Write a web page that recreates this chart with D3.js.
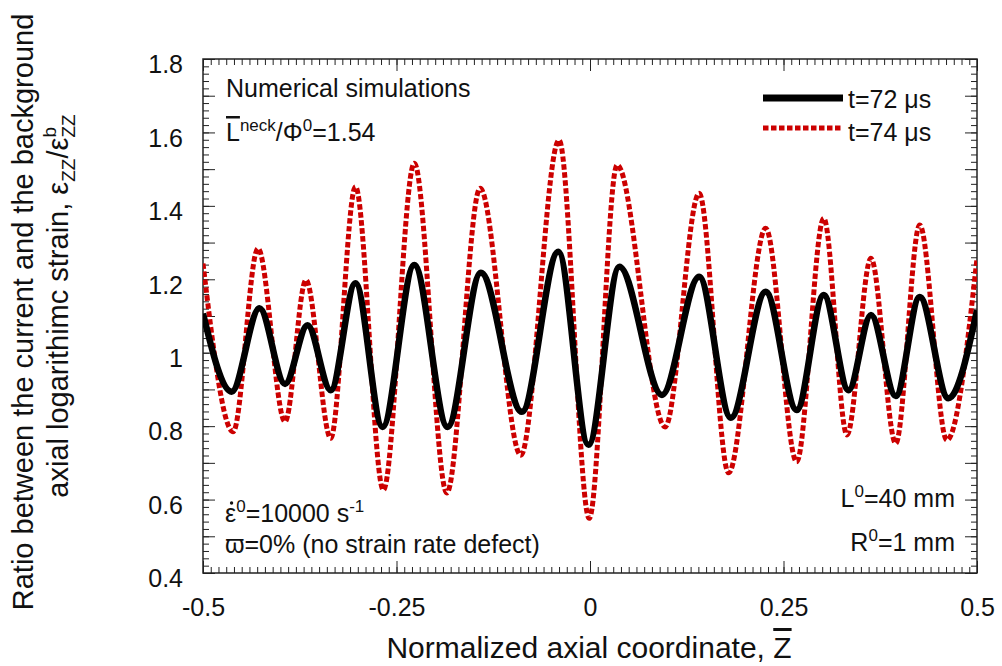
<!DOCTYPE html>
<html><head><meta charset="utf-8">
<script src="https://cdn.jsdelivr.net/npm/d3@7"></script>
<style>
body{margin:0;background:#fff}
text{font-family:"Liberation Sans",Arial,Helvetica,sans-serif;fill:#111}
</style>
</head><body>
<svg id="chart" width="1002" height="666"></svg>
<script>
// ---- data ----
const zBlack = [-0.5,-0.463,-0.427,-0.394,-0.365,-0.335,-0.303,-0.268,-0.227,-0.184,-0.141,-0.088,-0.041,-0.002,0.038,0.093,0.141,0.182,0.227,0.267,0.302,0.334,0.363,0.395,0.426,0.463,0.5];
const eBlack = [1.107,0.894,1.121,0.915,1.075,0.898,1.189,0.798,1.239,0.798,1.218,0.839,1.275,0.749,1.234,0.885,1.207,0.823,1.166,0.844,1.157,0.898,1.103,0.882,1.152,0.876,1.116];
const zRed = [-0.5,-0.461,-0.429,-0.394,-0.367,-0.335,-0.303,-0.267,-0.227,-0.185,-0.142,-0.0895,-0.040,-0.001,0.035,0.097,0.141,0.179,0.227,0.267,0.302,0.332,0.363,0.395,0.426,0.461,0.5];
const eRed = [1.243,0.785,1.284,0.812,1.198,0.767,1.452,0.626,1.516,0.618,1.448,0.721,1.579,0.549,1.511,0.798,1.434,0.673,1.339,0.703,1.366,0.776,1.257,0.753,1.348,0.762,1.257];
const seriesNames = ["t=72 \u03bcs","t=74 \u03bcs"];
const xTickLabels = [-0.5,-0.25,0,0.25,0.5];
const yTickLabels = [0.4,0.6,0.8,1,1.2,1.4,1.6,1.8];

const svg = d3.select("#chart");
const L = 203, R = 977, T = 59, B = 573;
const x = d3.scaleLinear().domain([-0.5,0.5]).range([L,R]);
const y = d3.scaleLinear().domain([0.4,1.8]).range([B,T]);

const round = v => Math.round(v*1000)/1000;
const xMinor = d3.range(-50,51).map(i=>round(i/100));
const yMinor = d3.range(20,91).map(i=>round(i/50));
const yMajor = d3.range(4,19).map(i=>round(i/10));
const fmtX = v => (v===0?"0":String(v));
const fmtY = v => yTickLabels.some(t=>Math.abs(t-v)<1e-6) ? String(v) : "";

function axisG(ax, tx, ty){
  const g = svg.append("g").attr("transform",`translate(${tx},${ty})`).call(ax);
  g.select(".domain").remove();
  g.selectAll("line").attr("stroke","#222").attr("stroke-width",1);
  return g;
}
// minor ticks (inside) on all four sides
axisG(d3.axisBottom(x).tickValues(xMinor).tickSize(-6).tickFormat(""),0,B);
axisG(d3.axisTop(x).tickValues(xMinor).tickSize(-6).tickFormat(""),0,T);
axisG(d3.axisLeft(y).tickValues(yMinor).tickSize(-6).tickFormat(""),L,0);
axisG(d3.axisRight(y).tickValues(yMinor).tickSize(-6).tickFormat(""),R,0);
// major ticks
const gxb = axisG(d3.axisBottom(x).tickValues(xTickLabels).tickSize(-12).tickPadding(22).tickFormat(fmtX),0,B);
axisG(d3.axisTop(x).tickValues(xTickLabels).tickSize(-12).tickFormat(""),0,T);
const gyl = axisG(d3.axisLeft(y).tickValues(yMajor).tickSize(-12).tickPadding(20).tickFormat(fmtY),L,0);
axisG(d3.axisRight(y).tickValues(yMajor).tickSize(-12).tickFormat(""),R,0);
gxb.selectAll("text").attr("font-size",25).attr("fill","#111").attr("dy",0).attr("y",43);
gyl.selectAll("text").attr("font-size",25).attr("fill","#111").attr("dy","0.35em").attr("y",5);
svg.selectAll(".tick text").style("font-family",'"Liberation Sans",Arial,sans-serif');

// frame
svg.append("rect").attr("x",L).attr("y",T).attr("width",R-L).attr("height",B-T)
  .attr("fill","none").attr("stroke","#222").attr("stroke-width",1.5);

// clip
svg.append("clipPath").attr("id","clip").append("rect").attr("x",L).attr("y",T-5).attr("width",R-L).attr("height",B-T+10);

const line = d3.line().x(d=>x(d[0])).y(d=>y(d[1])).curve(d3.curveMonotoneX);
const red = zRed.map((z,i)=>[z,eRed[i]]);
const blk = zBlack.map((z,i)=>[z,eBlack[i]]);
svg.append("path").datum(red).attr("clip-path","url(#clip)").attr("d",line)
  .attr("fill","none").attr("stroke","#cc0000").attr("stroke-width",5).attr("stroke-dasharray","5.5 2.5");
svg.append("path").datum(blk).attr("clip-path","url(#clip)").attr("d",line)
  .attr("fill","none").attr("stroke","#000").attr("stroke-width",6.5).attr("stroke-linejoin","round");

// legend
const lg = svg.append("g");
lg.append("line").attr("x1",763).attr("x2",843).attr("y1",98).attr("y2",98).attr("stroke","#000").attr("stroke-width",7);
lg.append("line").attr("x1",763).attr("x2",843).attr("y1",128).attr("y2",128).attr("stroke","#cc0000").attr("stroke-width",5).attr("stroke-dasharray","5.5 2.5");
lg.append("text").attr("x",848).attr("y",108).attr("font-size",25).text(seriesNames[0]);
lg.append("text").attr("x",848).attr("y",141).attr("font-size",25).text(seriesNames[1]);

// rich text helper
function rich(xp, yp, parts, size, anchor){
  const t = svg.append("text").attr("x",xp).attr("y",yp).attr("font-size",size).attr("text-anchor",anchor||"start");
  let cur = 0;
  parts.forEach(p=>{
    const off = p.sup ? -10 : (p.sub ? 7 : 0);
    const ts = t.append("tspan").attr("dy", off-cur).text(p.t);
    cur = off;
    if(p.sup||p.sub) ts.attr("font-size", size*0.68);
    if(p.over) ts.style("text-decoration","overline");
  });
  return t;
}
rich(226,97,[{t:"Numerical simulations"}],25);
rich(226,141,[{t:"L",over:true},{t:"neck",sup:true},{t:"/\u03a6"},{t:"0",sup:true},{t:"=1.54"}],25);

// epsilon-dot line (dot drawn as a small diacritic mark)
const ed = rich(225,522,[{t:"\u03b5"},{t:"0",sup:true},{t:"=10000 s"},{t:"-1",sup:true}],25);
const ew = ed.select("tspan").node().getComputedTextLength();
svg.append("circle").attr("cx",225+ew/2+1).attr("cy",503).attr("r",1.7).attr("fill","#111");

rich(225,553,[{t:"\u03d6=0% (no strain rate defect)"}],25);
rich(955,507,[{t:"L"},{t:"0",sup:true},{t:"=40 mm"}],25,"end");
rich(955,551,[{t:"R"},{t:"0",sup:true},{t:"=1 mm"}],25,"end");

// axis titles
const xt = svg.append("text").attr("x",589).attr("y",658).attr("font-size",30).attr("text-anchor","middle");
xt.append("tspan").text("Normalized axial coordinate, ");
xt.append("tspan").text("Z").style("text-decoration","overline");

const yt1 = svg.append("text").attr("transform","translate(33,312) rotate(-90)").attr("font-size",29).attr("text-anchor","middle")
  .text("Ratio between the current and the background");
const yt2 = svg.append("text").attr("transform","translate(68,306) rotate(-90)").attr("font-size",29).attr("text-anchor","middle");
yt2.append("tspan").text("axial logarithimc strain, \u03b5");
yt2.append("tspan").attr("dy",7).attr("font-size",19).text("ZZ");
yt2.append("tspan").attr("dy",-7).text("/\u03b5");
const bsup = yt2.append("tspan").attr("dy",-12).attr("font-size",19).text("b");
const bw = bsup.node().getComputedTextLength();
yt2.append("tspan").attr("dy",19).attr("dx",-bw).attr("font-size",19).text("ZZ");
</script>
</body></html>
